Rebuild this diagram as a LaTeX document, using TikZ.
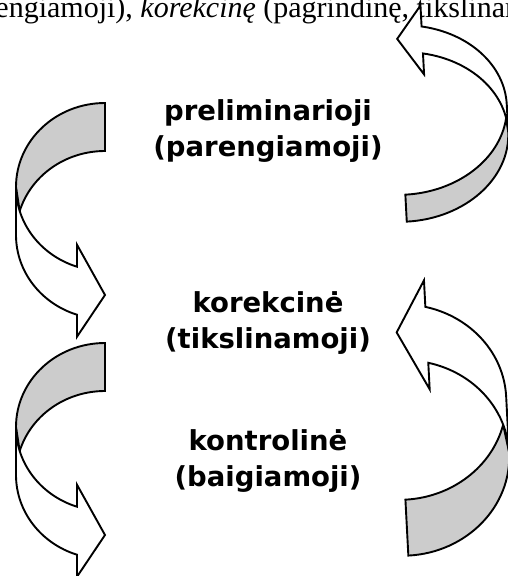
\documentclass[tikz,border=0pt]{standalone}
\usepackage{fontspec}
\setmainfont{Liberation Serif}
\newfontfamily\stagefont{DejaVu Sans}
\usepackage{xcolor}
\usepackage{tikz}

\definecolor{bandgray}{RGB}{204,204,204}

% bent band arrow: #1 left, #2 top, #3 width, #4 height,
% #5 band width, #6 head width, #7 head length
\newcommand{\bentarrow}[7]{%
  \pgfmathsetmacro\arR{#1+#3}%
  \pgfmathsetmacro\arH{#4/2-(#5+#6)/4}%
  \pgfmathsetmacro\arDy{sqrt(#3*#3-#7*#7)*\arH/#3}%
  \pgfmathsetmacro\arDh{(#6-#5)/2}%
  \pgfmathsetmacro\arX{\arR-#7}%
  \pgfmathsetmacro\arPhi{acos(-#7/#3)}%
  \pgfmathsetmacro\arPsi{180+asin(#5/(2*\arH))}%
  % back half
  \filldraw[outline,fill=bandgray] (#1,#2+\arH)
    arc[start angle=180,end angle=270,x radius=#3,y radius=\arH]
    -- (\arR,#2+#5)
    arc[start angle=270,end angle=\arPsi,x radius=#3,y radius=\arH] -- cycle;
  % front half with the head
  \filldraw[outline,fill=white] (#1,#2+\arH)
    arc[start angle=180,end angle=\arPhi,x radius=#3,y radius=\arH]
    -- (\arX,#2+\arH+\arDy-\arDh) -- (\arR,#2+#4-#6/2)
    -- (\arX,#2+\arH+#5+\arDy+\arDh) -- (\arX,#2+\arH+#5+\arDy)
    arc[start angle=\arPhi,end angle=180,x radius=#3,y radius=\arH] -- cycle;
}

\begin{document}
\begin{tikzpicture}[x=1pt,y=-1pt,
  outline/.style={draw=black,line width=1.9pt,line join=miter},
  stage/.style={align=center,font=\stagefont\bfseries\fontsize{27.5}{36.5}\selectfont}
]
  \useasboundingbox (0,0) rectangle (508,576);
  \clip (0,0) rectangle (508,576);

  % running text above the figure
  \node[anchor=base west,inner sep=0pt,font=\fontsize{30}{36}\selectfont] (lead) at (-53,17)
    {(parengiamoji), \textit{korekcinę} (pagrindinę, tikslinamąją)};

  % left arrows
  \bentarrow{16}{103}{89}{238}{48}{92}{28}
  \bentarrow{16}{343}{89}{238}{48}{92}{28}

  % right arrows, turned round
  \begin{scope}[rotate around={183:(454,110.25)}]
    \bentarrow{401}{1.5}{106}{217.5}{27}{69}{25}
  \end{scope}
  \begin{scope}[rotate around={183:(454,414)}]
    \bentarrow{401}{275}{106}{278}{56}{109}{30}
  \end{scope}

  \node[stage] (prelim) at (268,131) {preliminarioji\\(parengiamoji)};
  \node[stage] (correct) at (268,323) {korekcinė\\(tikslinamoji)};
  \node[stage] (control) at (268,461) {kontrolinė\\(baigiamoji)};
\end{tikzpicture}
\end{document}
